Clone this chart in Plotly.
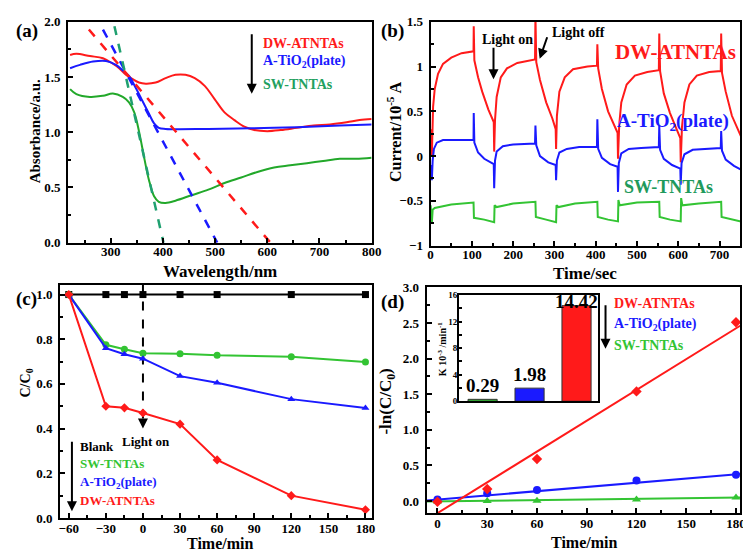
import plotly.graph_objects as go

# ---------------- data ----------------
# (a) UV-vis absorbance
wl_red = [222, 234, 260, 285, 304, 316, 329, 342, 354, 367, 386, 405, 424, 443, 461, 480, 499,
          518, 537, 556, 575, 600, 626, 657, 689, 720, 752, 777, 800]
abs_red = [1.70, 1.71, 1.69, 1.67, 1.62, 1.58, 1.52, 1.48, 1.45, 1.44, 1.45, 1.49, 1.52, 1.52, 1.49,
           1.42, 1.30, 1.18, 1.11, 1.05, 1.02, 1.01, 1.02, 1.04, 1.06, 1.07, 1.09, 1.11, 1.12]
wl_blue = [222, 241, 266, 291, 310, 323, 335, 348, 360, 373, 383, 392, 405, 487, 613, 739, 800]
abs_blue = [1.58, 1.61, 1.64, 1.645, 1.61, 1.56, 1.51, 1.40, 1.29, 1.17, 1.08, 1.04, 1.03, 1.03,
            1.04, 1.06, 1.07]
wl_green = [222, 234, 260, 285, 304, 323, 335, 345, 354, 364, 373, 383, 392, 405, 424, 455, 487,
            518, 550, 581, 613, 644, 676, 707, 739, 770, 800]
abs_green = [1.39, 1.345, 1.32, 1.33, 1.35, 1.32, 1.27, 1.18, 1.01, 0.77, 0.57, 0.42, 0.37, 0.36,
             0.38, 0.43, 0.48, 0.54, 0.59, 0.64, 0.68, 0.70, 0.72, 0.74, 0.76, 0.76, 0.77]
tan_red_x, tan_red_y = [258, 606], [1.93, 0.0]
tan_blue_x, tan_blue_y = [285, 504], [1.93, 0.0]
tan_green_x, tan_green_y = [307, 401], [1.96, 0.0]

# (b) transient photocurrent
t_red = [0, 3, 6, 10, 18, 30, 50, 75, 104, 104.5, 106, 115, 125, 140, 153, 154, 156, 160, 170, 185,
         210, 253, 254, 256, 265, 280, 295, 303, 304, 306, 312, 325, 345, 380, 403, 404, 406, 415,
         430, 445, 453, 454, 457, 462, 475, 495, 525, 553, 554, 556, 565, 580, 595, 605, 606, 609,
         615, 627, 645, 675, 703, 704, 706, 715, 730, 745, 752]
i_red = [0.30, 0.0, 0.55, 0.75, 0.92, 1.03, 1.10, 1.15, 1.17, 1.45, 1.07, 0.88, 0.72, 0.52, 0.38,
         0.05, 0.40, 0.66, 0.88, 0.98, 1.04, 1.08, 1.58, 1.05, 0.85, 0.60, 0.42, 0.30, 0.08, 0.45,
         0.72, 0.88, 0.97, 1.00, 1.01, 1.25, 0.98, 0.75, 0.50, 0.33, 0.26, -0.03, 0.35, 0.60, 0.80,
         0.90, 0.94, 0.96, 1.37, 0.95, 0.70, 0.48, 0.30, 0.20, -0.07, 0.32, 0.60, 0.80, 0.90, 0.94,
         0.95, 1.37, 0.93, 0.72, 0.45, 0.28, 0.22]
t_blue = [0, 3, 5, 8, 15, 30, 104, 104.5, 106, 115, 130, 153, 154, 156, 160, 175, 200, 253, 254,
          256, 265, 285, 303, 304, 306, 312, 330, 360, 403, 404, 406, 415, 435, 453, 454, 456, 462,
          480, 510, 553, 554, 556, 565, 585, 605, 606, 608, 615, 635, 665, 703, 704, 706, 715, 735,
          752]
i_blue = [-0.10, -0.27, -0.05, 0.08, 0.15, 0.18, 0.18, 0.48, 0.15, 0.04, -0.03, -0.09, -0.36, -0.05,
          0.05, 0.11, 0.13, 0.14, 0.34, 0.12, 0.0, -0.07, -0.10, -0.27, -0.05, 0.04, 0.08, 0.10,
          0.10, 0.41, 0.08, -0.02, -0.09, -0.12, -0.40, -0.08, 0.03, 0.08, 0.09, 0.10, 0.34, 0.07,
          -0.03, -0.10, -0.14, -0.32, -0.08, 0.02, 0.07, 0.08, 0.09, 0.28, 0.06, -0.04, -0.11, -0.15]
t_green = [0, 3, 5, 10, 50, 104, 105, 130, 154, 155, 160, 200, 254, 255, 280, 304, 305, 310, 350,
           404, 405, 430, 454, 455, 458, 500, 554, 555, 580, 606, 607, 610, 650, 704, 705, 730, 752]
i_green = [-0.55, -0.75, -0.60, -0.58, -0.54, -0.52, -0.69, -0.71, -0.74, -0.55, -0.57, -0.53, -0.51,
           -0.68, -0.71, -0.74, -0.55, -0.57, -0.53, -0.51, -0.68, -0.71, -0.73, -0.49, -0.55, -0.52,
           -0.51, -0.68, -0.71, -0.73, -0.47, -0.55, -0.53, -0.51, -0.68, -0.71, -0.73]

# (c) degradation
time_c = [-60, -30, -15, 0, 30, 60, 120, 180]
blank_c = [1.0, 1.0, 1.0, 1.0, 1.0, 1.0, 1.0, 1.0]
sw_c = [1.0, 0.775, 0.755, 0.737, 0.735, 0.728, 0.722, 0.698]
tio2_c = [1.0, 0.76, 0.733, 0.713, 0.635, 0.605, 0.532, 0.492]
dw_c = [1.0, 0.50, 0.493, 0.47, 0.42, 0.26, 0.10, 0.037]

# (d) kinetics
time_d = [0, 30, 60, 120, 180]
dw_d = [-0.01, 0.17, 0.59, 1.54, 2.51]
tio2_d = [0.02, 0.11, 0.155, 0.29, 0.37]
sw_d = [-0.005, 0.0, 0.005, 0.02, 0.05]
fit_x = [-6.5, 182.5]
fit_dw = [-0.264, 2.462]
fit_tio2 = [0.007, 0.381]
fit_sw = [-0.007, 0.048]

# inset rate constants
k_pos = [0, 1, 2]
k_vals = [0.29, 1.98, 14.42]

RED = "#ff1a1a"
BLUE = "#1a1aff"
GREEN = "#22a82a"
GREEN_C = "#33c433"
FONT = "Liberation Serif"

fig = go.Figure()

# (a)
for x, y, c in [(wl_red, abs_red, RED), (wl_blue, abs_blue, BLUE), (wl_green, abs_green, GREEN)]:
    fig.add_trace(go.Scatter(x=x, y=y, mode="lines", line=dict(color=c, width=2),
                             line_shape="spline", xaxis="x", yaxis="y"))
for x, y, c in [(tan_red_x, tan_red_y, RED), (tan_blue_x, tan_blue_y, BLUE),
                (tan_green_x, tan_green_y, "#20a070")]:
    fig.add_trace(go.Scatter(x=x, y=y, mode="lines", line=dict(color=c, width=2.5, dash="dash"),
                             xaxis="x", yaxis="y"))

# (b)
for x, y, c in [(t_red, i_red, RED), (t_blue, i_blue, BLUE), (t_green, i_green, GREEN_C)]:
    fig.add_trace(go.Scatter(x=x, y=y, mode="lines", line=dict(color=c, width=2),
                             xaxis="x2", yaxis="y2"))

# (c)
fig.add_trace(go.Scatter(x=[0, 0], y=[1.05, 0.43], mode="lines",
                         line=dict(color="black", width=2, dash="dash"), xaxis="x3", yaxis="y3"))
for y, c, sym in [(blank_c, "black", "square"), (sw_c, GREEN_C, "circle"),
                  (tio2_c, BLUE, "triangle-up"), (dw_c, RED, "diamond")]:
    fig.add_trace(go.Scatter(x=time_c, y=y, mode="lines+markers", line=dict(color=c, width=2),
                             marker=dict(symbol=sym, size=7, color=c), xaxis="x3", yaxis="y3",
                             cliponaxis=False))

# (d)
for y, fy, c, sym in [(sw_d, fit_sw, GREEN_C, "triangle-up"), (tio2_d, fit_tio2, BLUE, "circle"),
                      (dw_d, fit_dw, RED, "diamond")]:
    fig.add_trace(go.Scatter(x=fit_x, y=fy, mode="lines", line=dict(color=c, width=2),
                             xaxis="x4", yaxis="y4"))
    fig.add_trace(go.Scatter(x=time_d, y=y, mode="markers", marker=dict(symbol=sym, size=8, color=c),
                             xaxis="x4", yaxis="y4", cliponaxis=False))

# inset bars
fig.add_trace(go.Bar(x=k_pos, y=k_vals, width=0.62,
                     marker=dict(color=[GREEN_C, BLUE, RED], line=dict(color="#333333", width=1)),
                     xaxis="x5", yaxis="y5"))


def ax(domain, rng, dtick, minor, anchor, fmt=None, tick0=None, size=13, standoff=0):
    d = dict(domain=domain, range=rng, dtick=dtick, anchor=anchor, showline=True, linewidth=2,
             linecolor="black", mirror=True, ticks="inside", ticklen=5, tickwidth=2,
             tickcolor="black", showgrid=False, zeroline=False, ticklabelstandoff=standoff,
             tickfont=dict(family=FONT, size=size, color="black", weight="bold"),
             minor=dict(dtick=minor, ticks="inside", ticklen=3, tickwidth=1.5, tickcolor="black"))
    if fmt:
        d["tickformat"] = fmt
    if tick0 is not None:
        d["tick0"] = tick0
    return d


W, H = 751, 554


def px(x0, x1):
    return [x0 / W, x1 / W]


def py(top, bottom):
    return [1 - bottom / H, 1 - top / H]


fig.update_layout(
    width=W, height=H, margin=dict(l=0, r=0, t=0, b=0), showlegend=False,
    paper_bgcolor="white", plot_bgcolor="white",
    font=dict(family=FONT, color="black", weight="bold"),
    xaxis=ax(px(58, 367), [218, 800], 100, 50, "y", tick0=0, standoff=-4),
    yaxis=ax(py(7, 234), [0, 2.0], 0.5, 0.25, "x", fmt=".1f", standoff=3),
    xaxis2=ax(px(427, 742), [0, 750], 100, 50, "y2", standoff=-4),
    yaxis2=ax(py(7, 237), [-1, 1.5], 0.5, 0.25, "x2", standoff=3),
    xaxis3=ax(px(50, 367), [-67, 185], 30, 15, "y3", tick0=0, standoff=-3),
    yaxis3=ax(py(277, 517), [0, 1.045], 0.2, 0.1, "x3", fmt=".1f", standoff=3),
    xaxis4=ax(px(423, 742), [-6.5, 182.5], 30, 15, "y4", tick0=0, standoff=-3),
    yaxis4=ax(py(280, 512), [-0.17, 3.0], 0.5, 0.25, "x4", fmt=".1f", standoff=3),
    xaxis5=dict(domain=px(456, 597), range=[-0.5, 2.45], anchor="y5", showline=True, linewidth=2,
                linecolor="black", mirror=True, showticklabels=False, ticks="", showgrid=False),
    yaxis5=ax(py(288, 397), [0, 16], 4, 2, "x5", size=9, standoff=-2),
    bargap=0.3,
)
fig.update_layout(yaxis5=dict(ticklen=3, tickwidth=1.5))

anns = []


def text(x, y, s, size, color="black", xanchor="left", angle=0):
    anns.append(dict(x=x / W, y=1 - y / H, xref="paper", yref="paper", text=s, showarrow=False,
                     xanchor=xanchor, yanchor="middle", textangle=angle,
                     font=dict(family=FONT, size=size, color=color, weight="bold")))


def arrow(x0, y0, x1, y1, width=2):
    anns.append(dict(x=x1 / W, y=1 - y1 / H, xref="paper", yref="paper", ax=x0 - x1, ay=y0 - y1,
                     axref="pixel", ayref="pixel", showarrow=True, arrowhead=2, arrowsize=1,
                     arrowwidth=width, arrowcolor="black", text=""))


# panel labels
text(3, 16, "(a)", 19)
text(374, 16, "(b)", 19)
text(3, 292, "(c)", 19)
text(374, 295, "(d)", 19)

# axis titles
text(24, 120, "Absorbance/a.u.", 15, xanchor="center", angle=-90)
text(213, 264, "Wavelength/nm", 17, xanchor="center")
text(390, 120, "Current/10<sup>-5</sup> A", 16, xanchor="center", angle=-90)
text(584, 266, "Time/sec", 17, xanchor="center")
text(16, 378, "C/C<sub>0</sub>", 14, xanchor="center", angle=-90)
text(213, 543, "Time/min", 16, xanchor="center")
text(383, 397, "-ln(C/C<sub>0</sub>)", 17, xanchor="center", angle=-90)
text(583, 542, "Time/min", 16, xanchor="center")
text(438, 343, "K 10<sup>-3</sup> /min<sup>-1</sup>", 10, xanchor="center", angle=-90)

# inset bar values
for xv, yv in zip(k_pos, k_vals):
    anns.append(dict(x=xv, y=min(yv, 13.0), xref="x5", yref="y5", text=f"{yv:.2f}",
                     showarrow=False, yanchor="bottom", yshift=1,
                     font=dict(family=FONT, size=19, color="black", weight="bold")))

# (a) legend
arrow(245, 20, 245, 81)
text(254, 29, "DW-ATNTAs", 14, RED)
text(254, 48, "A-TiO<sub>2</sub>(plate)", 14, BLUE)
text(254, 71, "SW-TNTAs", 14, "#22a060")

# (b) legend
text(613, 38, "DW-ATNTAs", 21, RED)
text(615, 110, "A-TiO<sub>2</sub>(plate)", 19, BLUE)
text(622, 177, "SW-TNTAs", 18, "#1f9a5c")
text(477, 25, "Light on", 14)
arrow(491, 33, 491, 66)
text(548, 18, "Light off", 14)
arrow(546, 22, 538, 45)

# (c) legend
arrow(62, 439, 62, 510)
text(68, 443, "Blank", 13)
text(68, 461, "SW-TNTAs", 13, GREEN_C)
text(68, 480, "A-TiO<sub>2</sub>(plate)", 13, BLUE)
text(68, 499, "DW-ATNTAs", 13, RED)
text(137, 438, "Light on", 13, xanchor="center")
anns.append(dict(x=0, y=0.40, xref="x3", yref="y3", ax=0, ay=0.45, axref="x3", ayref="y3",
                 showarrow=True, arrowhead=2, arrowwidth=2, arrowcolor="black", text=""))

# (d) legend
arrow(605, 298, 605, 343)
text(612, 297, "DW-ATNTAs", 14, RED)
text(612, 318, "A-TiO<sub>2</sub>(plate)", 14, BLUE)
text(612, 340, "SW-TNTAs", 14, GREEN_C)

fig.update_layout(annotations=anns)
fig.write_html("out.html")
